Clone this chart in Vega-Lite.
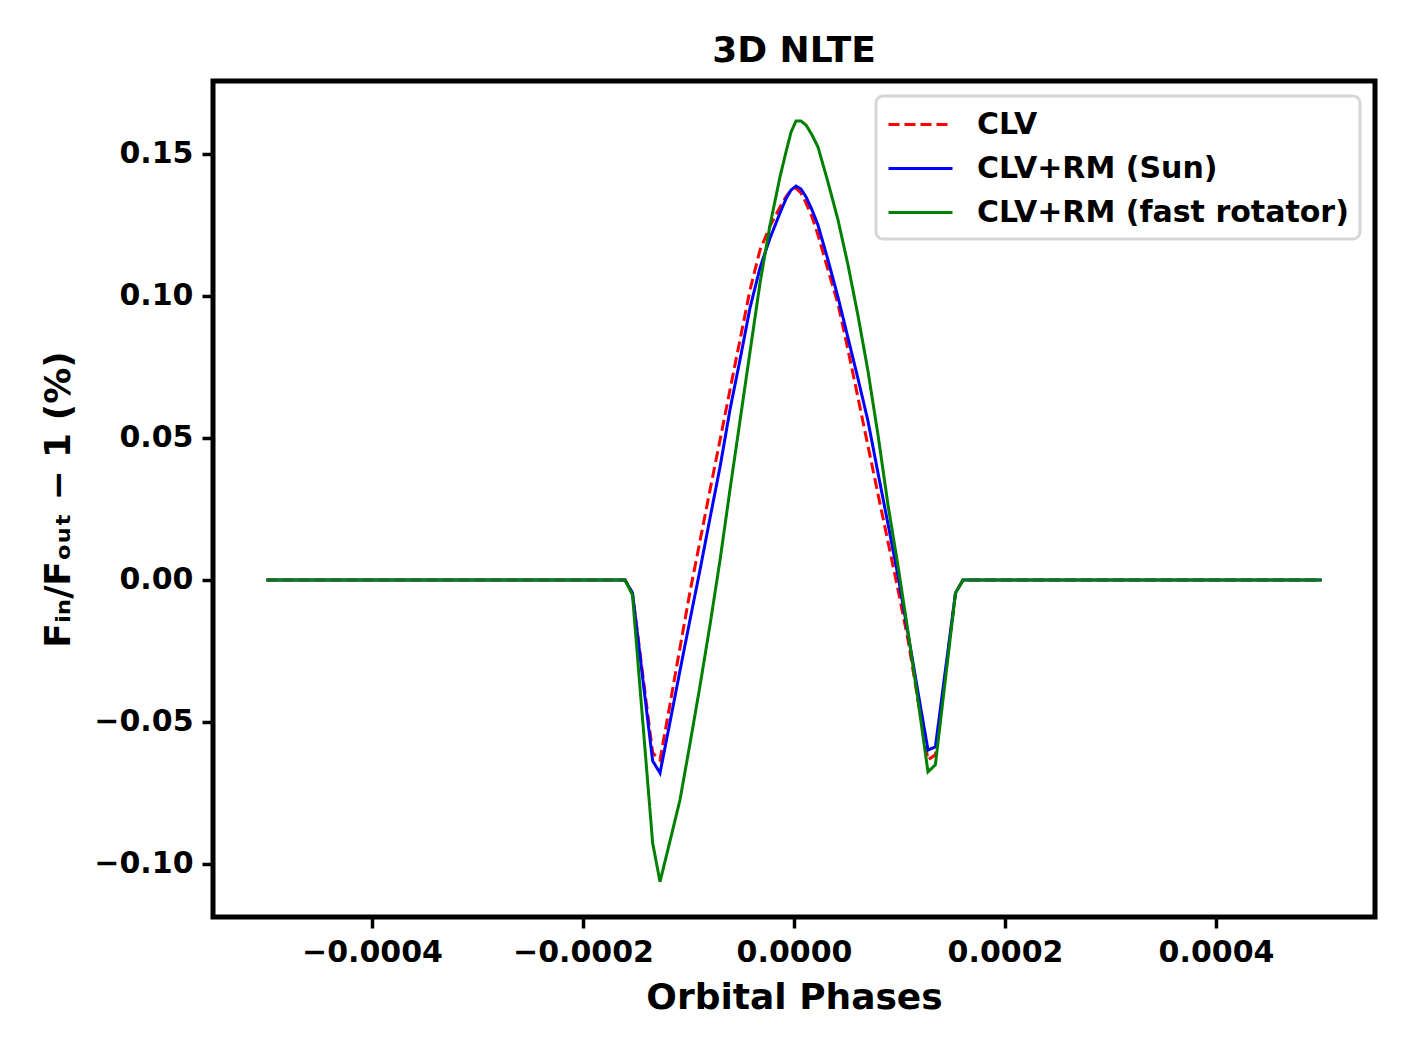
{
  "$schema": "https://vega.github.io/schema/vega-lite/v6.json",
  "width": 1162,
  "height": 836,
  "autosize": {"type": "none"},
  "padding": {"left": 213, "top": 81, "right": 33, "bottom": 139},
  "background": "white",
  "title": {"text": "3D NLTE", "fontSize": 36, "fontWeight": "bold", "font": "DejaVu Sans", "offset": 11, "color": "black"},
  "datasets": {
    "curves": [
      {"model": "CLV", "phase": -0.0005, "dF": 0},
      {"model": "CLV", "phase": -0.0001602, "dF": 0},
      {"model": "CLV", "phase": -0.0001531, "dF": -0.0046},
      {"model": "CLV", "phase": -0.000134, "dF": -0.0609},
      {"model": "CLV", "phase": -0.000127, "dF": -0.0634},
      {"model": "CLV", "phase": -0.0001175, "dF": -0.0437},
      {"model": "CLV", "phase": -0.0001081, "dF": -0.0239},
      {"model": "CLV", "phase": -0.0000986, "dF": -0.0042},
      {"model": "CLV", "phase": -0.0000891, "dF": 0.0137},
      {"model": "CLV", "phase": -0.0000796, "dF": 0.0317},
      {"model": "CLV", "phase": -0.0000701, "dF": 0.0493},
      {"model": "CLV", "phase": -0.0000607, "dF": 0.0669},
      {"model": "CLV", "phase": -0.0000512, "dF": 0.0845},
      {"model": "CLV", "phase": -0.0000417, "dF": 0.1021},
      {"model": "CLV", "phase": -0.0000322, "dF": 0.1162},
      {"model": "CLV", "phase": -0.0000227, "dF": 0.1246},
      {"model": "CLV", "phase": -0.0000133, "dF": 0.1313},
      {"model": "CLV", "phase": -0.0000076, "dF": 0.1349},
      {"model": "CLV", "phase": -0.0000028, "dF": 0.1373},
      {"model": "CLV", "phase": 0.0000019, "dF": 0.138},
      {"model": "CLV", "phase": 0.0000066, "dF": 0.1363},
      {"model": "CLV", "phase": 0.0000114, "dF": 0.1327},
      {"model": "CLV", "phase": 0.0000171, "dF": 0.1278},
      {"model": "CLV", "phase": 0.0000227, "dF": 0.1215},
      {"model": "CLV", "phase": 0.0000322, "dF": 0.1092},
      {"model": "CLV", "phase": 0.0000417, "dF": 0.0972},
      {"model": "CLV", "phase": 0.0000512, "dF": 0.081},
      {"model": "CLV", "phase": 0.0000607, "dF": 0.0641},
      {"model": "CLV", "phase": 0.0000701, "dF": 0.0472},
      {"model": "CLV", "phase": 0.0000796, "dF": 0.0303},
      {"model": "CLV", "phase": 0.0000891, "dF": 0.0134},
      {"model": "CLV", "phase": 0.0000986, "dF": -0.0035},
      {"model": "CLV", "phase": 0.0001081, "dF": -0.0211},
      {"model": "CLV", "phase": 0.0001175, "dF": -0.0423},
      {"model": "CLV", "phase": 0.000127, "dF": -0.0634},
      {"model": "CLV", "phase": 0.000134, "dF": -0.0616},
      {"model": "CLV", "phase": 0.0001531, "dF": -0.0046},
      {"model": "CLV", "phase": 0.0001602, "dF": 0},
      {"model": "CLV", "phase": 0.0005, "dF": 0},

      {"model": "CLV+RM (Sun)", "phase": -0.0005, "dF": 0},
      {"model": "CLV+RM (Sun)", "phase": -0.0001602, "dF": 0},
      {"model": "CLV+RM (Sun)", "phase": -0.0001531, "dF": -0.0046},
      {"model": "CLV+RM (Sun)", "phase": -0.000134, "dF": -0.0637},
      {"model": "CLV+RM (Sun)", "phase": -0.000127, "dF": -0.068},
      {"model": "CLV+RM (Sun)", "phase": -0.0001175, "dF": -0.05},
      {"model": "CLV+RM (Sun)", "phase": -0.0001081, "dF": -0.032},
      {"model": "CLV+RM (Sun)", "phase": -0.0000986, "dF": -0.0141},
      {"model": "CLV+RM (Sun)", "phase": -0.0000891, "dF": 0.0035},
      {"model": "CLV+RM (Sun)", "phase": -0.0000796, "dF": 0.0218},
      {"model": "CLV+RM (Sun)", "phase": -0.0000701, "dF": 0.0398},
      {"model": "CLV+RM (Sun)", "phase": -0.0000607, "dF": 0.0599},
      {"model": "CLV+RM (Sun)", "phase": -0.0000512, "dF": 0.0775},
      {"model": "CLV+RM (Sun)", "phase": -0.0000417, "dF": 0.0958},
      {"model": "CLV+RM (Sun)", "phase": -0.0000322, "dF": 0.1099},
      {"model": "CLV+RM (Sun)", "phase": -0.0000227, "dF": 0.1204},
      {"model": "CLV+RM (Sun)", "phase": -0.0000133, "dF": 0.1292},
      {"model": "CLV+RM (Sun)", "phase": -0.0000076, "dF": 0.1342},
      {"model": "CLV+RM (Sun)", "phase": -0.0000028, "dF": 0.1373},
      {"model": "CLV+RM (Sun)", "phase": 0.0000019, "dF": 0.1387},
      {"model": "CLV+RM (Sun)", "phase": 0.0000066, "dF": 0.1377},
      {"model": "CLV+RM (Sun)", "phase": 0.0000114, "dF": 0.1349},
      {"model": "CLV+RM (Sun)", "phase": 0.0000171, "dF": 0.1303},
      {"model": "CLV+RM (Sun)", "phase": 0.0000227, "dF": 0.125},
      {"model": "CLV+RM (Sun)", "phase": 0.0000322, "dF": 0.1127},
      {"model": "CLV+RM (Sun)", "phase": 0.0000417, "dF": 0.0996},
      {"model": "CLV+RM (Sun)", "phase": 0.0000512, "dF": 0.0852},
      {"model": "CLV+RM (Sun)", "phase": 0.0000607, "dF": 0.0708},
      {"model": "CLV+RM (Sun)", "phase": 0.0000701, "dF": 0.056},
      {"model": "CLV+RM (Sun)", "phase": 0.0000796, "dF": 0.0377},
      {"model": "CLV+RM (Sun)", "phase": 0.0000891, "dF": 0.0197},
      {"model": "CLV+RM (Sun)", "phase": 0.0000986, "dF": 0.0014},
      {"model": "CLV+RM (Sun)", "phase": 0.0001081, "dF": -0.019},
      {"model": "CLV+RM (Sun)", "phase": 0.0001175, "dF": -0.0394},
      {"model": "CLV+RM (Sun)", "phase": 0.000127, "dF": -0.0599},
      {"model": "CLV+RM (Sun)", "phase": 0.000134, "dF": -0.0588},
      {"model": "CLV+RM (Sun)", "phase": 0.0001531, "dF": -0.0046},
      {"model": "CLV+RM (Sun)", "phase": 0.0001602, "dF": 0},
      {"model": "CLV+RM (Sun)", "phase": 0.0005, "dF": 0},

      {"model": "CLV+RM (fast rotator)", "phase": -0.0005, "dF": 0},
      {"model": "CLV+RM (fast rotator)", "phase": -0.0001602, "dF": 0},
      {"model": "CLV+RM (fast rotator)", "phase": -0.0001531, "dF": -0.0053},
      {"model": "CLV+RM (fast rotator)", "phase": -0.000134, "dF": -0.0926},
      {"model": "CLV+RM (fast rotator)", "phase": -0.000127, "dF": -0.1063},
      {"model": "CLV+RM (fast rotator)", "phase": -0.0001175, "dF": -0.0919},
      {"model": "CLV+RM (fast rotator)", "phase": -0.0001081, "dF": -0.0775},
      {"model": "CLV+RM (fast rotator)", "phase": -0.0000986, "dF": -0.0577},
      {"model": "CLV+RM (fast rotator)", "phase": -0.0000891, "dF": -0.0373},
      {"model": "CLV+RM (fast rotator)", "phase": -0.0000796, "dF": -0.0158},
      {"model": "CLV+RM (fast rotator)", "phase": -0.0000701, "dF": 0.007},
      {"model": "CLV+RM (fast rotator)", "phase": -0.0000607, "dF": 0.0317},
      {"model": "CLV+RM (fast rotator)", "phase": -0.0000512, "dF": 0.056},
      {"model": "CLV+RM (fast rotator)", "phase": -0.0000417, "dF": 0.0803},
      {"model": "CLV+RM (fast rotator)", "phase": -0.0000322, "dF": 0.1046},
      {"model": "CLV+RM (fast rotator)", "phase": -0.0000227, "dF": 0.125},
      {"model": "CLV+RM (fast rotator)", "phase": -0.0000133, "dF": 0.1419},
      {"model": "CLV+RM (fast rotator)", "phase": -0.0000076, "dF": 0.1507},
      {"model": "CLV+RM (fast rotator)", "phase": -0.0000028, "dF": 0.1577},
      {"model": "CLV+RM (fast rotator)", "phase": 0.0000019, "dF": 0.1616},
      {"model": "CLV+RM (fast rotator)", "phase": 0.0000066, "dF": 0.1616},
      {"model": "CLV+RM (fast rotator)", "phase": 0.0000114, "dF": 0.1602},
      {"model": "CLV+RM (fast rotator)", "phase": 0.0000171, "dF": 0.1567},
      {"model": "CLV+RM (fast rotator)", "phase": 0.0000227, "dF": 0.1525},
      {"model": "CLV+RM (fast rotator)", "phase": 0.0000322, "dF": 0.1401},
      {"model": "CLV+RM (fast rotator)", "phase": 0.0000417, "dF": 0.1268},
      {"model": "CLV+RM (fast rotator)", "phase": 0.0000512, "dF": 0.1109},
      {"model": "CLV+RM (fast rotator)", "phase": 0.0000607, "dF": 0.093},
      {"model": "CLV+RM (fast rotator)", "phase": 0.0000701, "dF": 0.0736},
      {"model": "CLV+RM (fast rotator)", "phase": 0.0000796, "dF": 0.0511},
      {"model": "CLV+RM (fast rotator)", "phase": 0.0000891, "dF": 0.0264},
      {"model": "CLV+RM (fast rotator)", "phase": 0.0000986, "dF": 0.0049},
      {"model": "CLV+RM (fast rotator)", "phase": 0.0001081, "dF": -0.0183},
      {"model": "CLV+RM (fast rotator)", "phase": 0.0001175, "dF": -0.0423},
      {"model": "CLV+RM (fast rotator)", "phase": 0.000127, "dF": -0.0676},
      {"model": "CLV+RM (fast rotator)", "phase": 0.000134, "dF": -0.0651},
      {"model": "CLV+RM (fast rotator)", "phase": 0.0001531, "dF": -0.0046},
      {"model": "CLV+RM (fast rotator)", "phase": 0.0001602, "dF": 0},
      {"model": "CLV+RM (fast rotator)", "phase": 0.0005, "dF": 0}
    ]
  },
  "data": {"name": "curves"},
  "mark": {"type": "line", "strokeWidth": 3, "clip": true},
  "encoding": {
    "x": {
      "field": "phase",
      "type": "quantitative",
      "scale": {"domain": [-0.0005507, 0.0005507], "nice": false, "zero": false},
      "axis": {"values": [-0.0004, -0.0002, 0, 0.0002, 0.0004], "format": ".4f", "title": "Orbital Phases", "titlePadding": 13}
    },
    "y": {
      "field": "dF",
      "type": "quantitative",
      "scale": {"domain": [-0.1187, 0.1757], "nice": false, "zero": false},
      "axis": {"values": [-0.1, -0.05, 0, 0.05, 0.1, 0.15], "format": ".2f", "title": "Fᵢₙ/Fₒᵤₜ − 1 (%)", "titlePadding": 16}
    },
    "color": {
      "field": "model",
      "type": "nominal",
      "scale": {"domain": ["CLV", "CLV+RM (Sun)", "CLV+RM (fast rotator)"], "range": ["#ff0000", "#0000ff", "#008000"]},
      "legend": {"title": null}
    },
    "strokeDash": {
      "field": "model",
      "type": "nominal",
      "scale": {"domain": ["CLV", "CLV+RM (Sun)", "CLV+RM (fast rotator)"], "range": [[11, 5], [1, 0], [1, 0]]},
      "legend": {"title": null}
    }
  },
  "config": {
    "font": "DejaVu Sans",
    "view": {"stroke": "black", "strokeWidth": 5},
    "axis": {
      "domain": false,
      "grid": false,
      "labelFont": "DejaVu Sans",
      "labelFontSize": 30,
      "labelFontWeight": "bold",
      "labelColor": "black",
      "labelPadding": 9,
      "tickColor": "black",
      "tickWidth": 3.5,
      "tickSize": 11,
      "titleFont": "DejaVu Sans",
      "titleFontSize": 36,
      "titleFontWeight": "bold",
      "titleColor": "black"
    },
    "legend": {
      "orient": "top-right",
      "offset": 15,
      "padding": 11,
      "fillColor": "white",
      "strokeColor": "#d6d6d6",
      "strokeWidth": 3,
      "cornerRadius": 7,
      "labelFont": "DejaVu Sans",
      "labelFontSize": 30,
      "labelFontWeight": "bold",
      "labelColor": "black",
      "labelLimit": 600,
      "labelOffset": 55,
      "rowPadding": 11,
      "symbolType": "M-1,0H3",
      "symbolSize": 1024,
      "symbolStrokeWidth": 3
    }
  }
}
